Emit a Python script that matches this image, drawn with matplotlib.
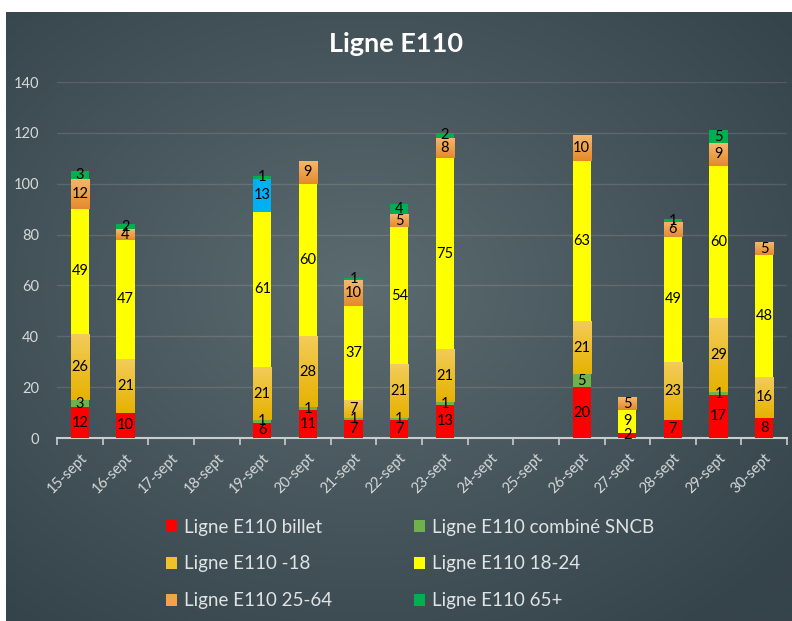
import numpy as np
import matplotlib
matplotlib.use("Agg")
import matplotlib.pyplot as plt
from matplotlib.colors import LinearSegmentedColormap, to_rgb

plt.rcParams['font.family'] = ['Lato', 'DejaVu Sans']

days = ['15-sept', '16-sept', '17-sept', '18-sept', '19-sept', '20-sept', '21-sept', '22-sept',
        '23-sept', '24-sept', '25-sept', '26-sept', '27-sept', '28-sept', '29-sept', '30-sept']

billet   = [12, 10, 0, 0, 6, 11, 7, 7, 13, 0, 0, 20, 2, 7, 17, 8]
combine  = [3, 0, 0, 0, 1, 1, 1, 1, 1, 0, 0, 5, 0, 0, 1, 0]
moins18  = [26, 21, 0, 0, 21, 28, 7, 21, 21, 0, 0, 21, 0, 23, 29, 16]
age1824  = [49, 47, 0, 0, 61, 60, 37, 54, 75, 0, 0, 63, 9, 49, 60, 48]
age2564  = [12, 4, 0, 0, 0, 9, 10, 5, 8, 0, 0, 10, 5, 6, 9, 5]
autre    = [0, 0, 0, 0, 13, 0, 0, 0, 0, 0, 0, 0, 0, 0, 0, 0]
age65    = [3, 2, 0, 0, 1, 0, 1, 4, 2, 0, 0, 0, 0, 1, 5, 0]

series = [
    ('Ligne E110 billet', billet, '#ff0000', None),
    ('Ligne E110 combiné SNCB', combine, '#6fb24a', None),
    ('Ligne E110 -18', moins18, '#efc12a', ('#f3cc5a', '#e6b200')),
    ('Ligne E110 18-24', age1824, '#ffff00', None),
    ('Ligne E110 25-64', age2564, '#f3a24a', ('#f6b76c', '#e58a2c')),
    ('Ligne E110 autre', autre, '#00b0f0', None),
    ('Ligne E110 65+', age65, '#00b050', None),
]

fig = plt.figure(figsize=(7.92, 6.21), dpi=100)
fig.patch.set_facecolor('white')

# background panel with soft radial gradient
bg = fig.add_axes([6 / 792, 0, 1 - 6 / 792, 1 - 12 / 621])
bg.set_axis_off()
h, w = 300, 390
yy, xx = np.mgrid[0:h, 0:w]
r = np.sqrt(((xx - w * 0.45) / w) ** 2 + ((yy - h * 0.45) / h) ** 2)
r = np.clip(r / 0.7, 0, 1)
c_in = np.array(to_rgb('#5b6b70'))
c_out = np.array(to_rgb('#35434a'))
img = c_in[None, None, :] * (1 - r[..., None]) + c_out[None, None, :] * r[..., None]
bg.imshow(img, aspect='auto', extent=[0, 1, 0, 1])
bg.set_xlim(0, 1)
bg.set_ylim(0, 1)

ax = fig.add_axes([57 / 792, 183 / 621, (787 - 57) / 792, (438 - 82) / 621])
ax.patch.set_alpha(0)

x = np.arange(len(days))
bottom = np.zeros(len(days))
handles = {}
for name, vals, color, grad in series:
    vals = np.array(vals, dtype=float)
    bars = ax.bar(x, vals, 0.4, bottom=bottom, color=color, linewidth=0, zorder=3, label=name)
    handles[name] = bars
    if grad is not None:
        cmap = LinearSegmentedColormap.from_list('g', [grad[1], grad[0]])
        for b in bars:
            if b.get_height() <= 0:
                continue
            x0, y0 = b.get_x(), b.get_y()
            im = ax.imshow(np.linspace(0, 1, 50).reshape(-1, 1), cmap=cmap, origin='lower',
                           extent=[x0, x0 + b.get_width(), y0, y0 + b.get_height()],
                           aspect='auto', zorder=3.5)
            im.set_clip_path(b)
    for xi, v, b0 in zip(x, vals, bottom):
        if v > 0:
            ax.text(xi, b0 + v / 2, f'{int(v)}', ha='center', va='center',
                    fontsize=10.5, color='black', zorder=5)
    bottom += vals

ax.set_xlim(-0.5, len(days) - 0.5)
ax.set_ylim(0, 140)
ax.set_yticks(range(0, 141, 20))
ax.grid(axis='y', color='white', alpha=0.12, linewidth=1, zorder=0)
for s in ['top', 'right', 'left']:
    ax.spines[s].set_visible(False)
ax.spines['bottom'].set_color('#c9cdce')
ax.spines['bottom'].set_linewidth(1.5)
ax.tick_params(axis='y', length=0, colors='#d6d9da', labelsize=10.5, pad=13)
ax.set_xticks(x)
ax.set_xticklabels(days, rotation=45, ha='right', va='top', rotation_mode='anchor',
                   color='#d6d9da', fontsize=10.5)
ax.tick_params(axis='x', which='major', length=0, pad=9)
ax.set_xticks(np.arange(-0.5, len(days), 1), minor=True)
ax.tick_params(axis='x', which='minor', length=5, width=1.2, color='#c9cdce')

fig.text(0.5, 1 - 44 / 621, 'Ligne E110', ha='center', va='center', fontsize=19.5,
         fontweight='bold', color='white')

leg_names = ['Ligne E110 billet', 'Ligne E110 combiné SNCB', 'Ligne E110 -18',
             'Ligne E110 18-24', 'Ligne E110 25-64', 'Ligne E110 65+']
order = [leg_names[0], leg_names[2], leg_names[4], leg_names[1], leg_names[3], leg_names[5]]
leg = fig.legend([handles[n] for n in order], order, ncol=2, loc='center',
                 bbox_to_anchor=(410 / 792, 1 - 564 / 621), frameon=False,
                 fontsize=13.5, labelcolor='#e0e3e4', handlelength=0.6, handleheight=0.6,
                 handletextpad=0.35, labelspacing=1.05, columnspacing=4.4)

fig.savefig('out.png', dpi=100)
